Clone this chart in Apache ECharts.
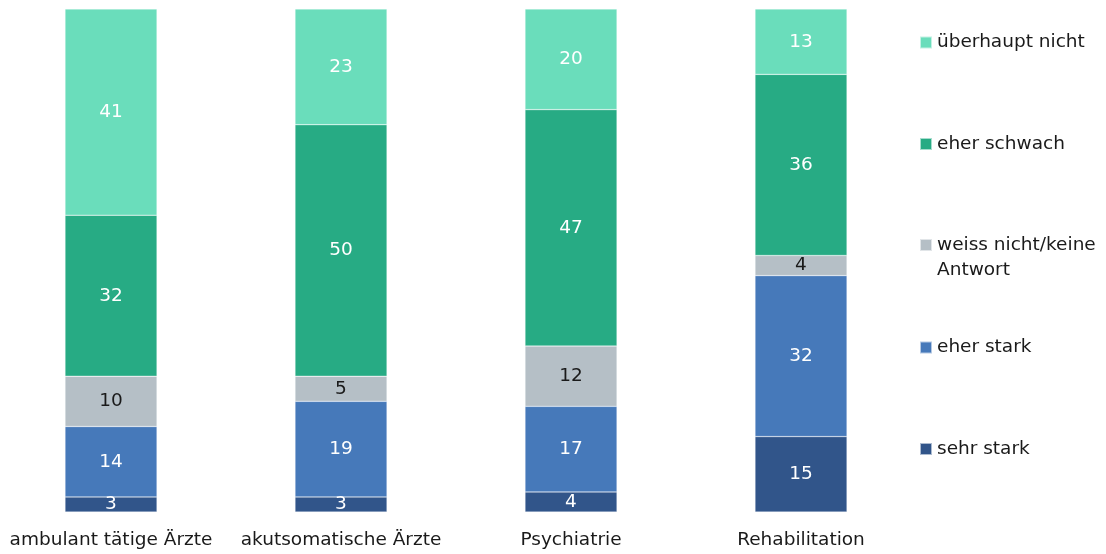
<!DOCTYPE html>
<html>
<head>
<meta charset="utf-8">
<script src="https://cdn.jsdelivr.net/npm/echarts@6/dist/echarts.min.js"></script>
<style>html,body{margin:0;padding:0;background:#fff;overflow:hidden}#c{width:1110px;height:554px;margin-left:-4px}</style>
</head>
<body>
<div id="c"></div>
<script>
var categories = ['ambulant tätige Ärzte', 'akutsomatische Ärzte', 'Psychiatrie', 'Rehabilitation'];
var seriesNames = ['sehr stark', 'eher stark', 'weiss nicht/keine Antwort', 'eher schwach', 'überhaupt nicht'];
var sehrStark = [3, 3, 4, 15];
var eherStark = [14, 19, 17, 32];
var weissNicht = [10, 5, 12, 4];
var eherSchwach = [32, 50, 47, 36];
var ueberhauptNicht = [41, 23, 20, 13];

var values = [sehrStark, eherStark, weissNicht, eherSchwach, ueberhauptNicht];
var colors = ['#31558A', '#4679BA', '#B5BFC6', '#27AB84', '#6ADDBB'];
var labelColors = ['#ffffff', '#ffffff', '#1a1a1a', '#ffffff', '#ffffff'];
var FONT = 'DejaVu Sans';
var FS = 18.5;

var chart = echarts.init(document.getElementById('c'));
var series = seriesNames.map(function (n, i) {
  return {
    name: n,
    type: 'bar',
    stack: 'total',
    barWidth: '40%',
    data: values[i],
    itemStyle: { color: colors[i], borderColor: 'rgba(255,255,255,0.6)', borderWidth: 0.5 },
    label: { show: true, position: 'inside', color: labelColors[i], fontSize: FS, fontFamily: FONT },
    emphasis: { disabled: true },
    animation: false
  };
});

var legendCenters = [42.5, 144, 245, 347.5, 449];
var legendOrder = [4, 3, 2, 1, 0];
var legends = legendOrder.map(function (si, k) {
  var multi = si === 2;
  return {
    data: [seriesNames[si]],
    orient: 'vertical',
    left: 923,
    top: multi ? legendCenters[k] - 37.5 : legendCenters[k] - 11,
    padding: 0,
    itemWidth: 12,
    itemHeight: 12,
    itemGap: 0,
    icon: 'rect',
    selectedMode: false,
    formatter: multi ? function () { return '\nweiss nicht/keine\nAntwort'; } : undefined,
    textStyle: { fontSize: FS, fontFamily: FONT, color: '#1a1a1a', lineHeight: multi ? 25 : 22 }
  };
});

chart.setOption({
  animation: false,
  grid: { left: 0, right: 190, top: 9, bottom: 42, containLabel: false },
  xAxis: {
    type: 'category',
    data: categories,
    axisLine: { show: false },
    axisTick: { show: false },
    axisLabel: { fontSize: FS, fontFamily: FONT, color: '#1a1a1a', margin: 19, interval: 0 }
  },
  yAxis: { type: 'value', min: 0, max: 100, show: false, splitLine: { show: false } },
  legend: legends,
  series: series
});
</script>
</body>
</html>
